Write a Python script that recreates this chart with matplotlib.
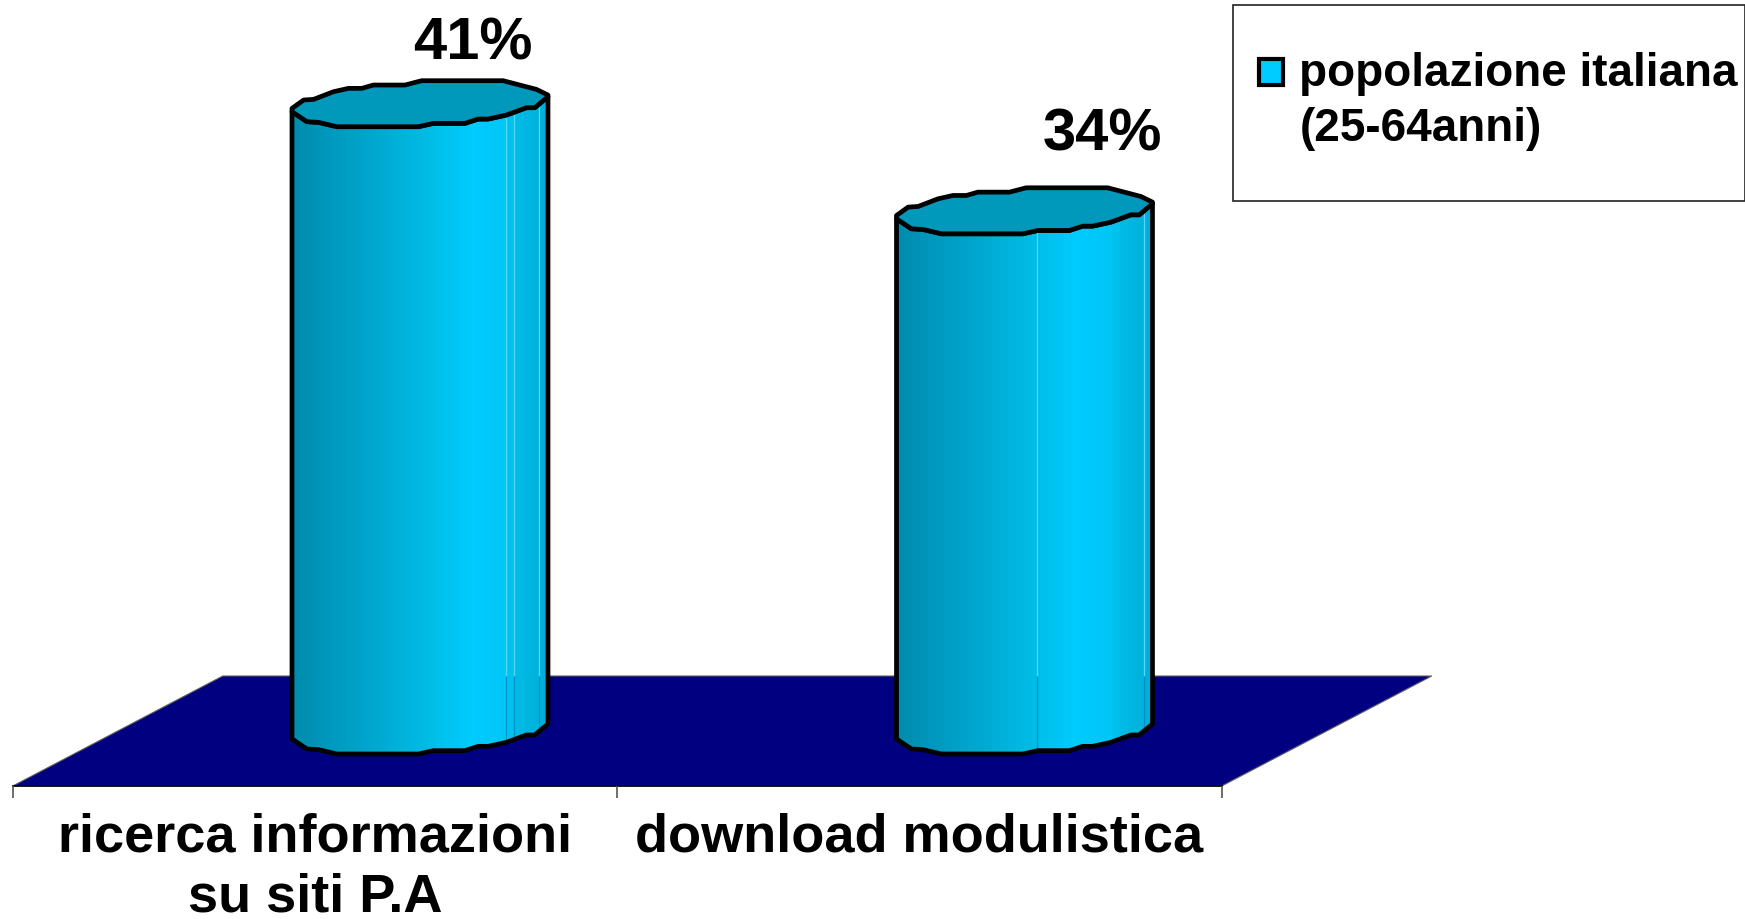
import numpy as np
import matplotlib
matplotlib.use("Agg")
import matplotlib.pyplot as plt
from matplotlib.colors import LinearSegmentedColormap
from matplotlib.legend_handler import HandlerPatch
from matplotlib.patches import Patch, Polygon, Rectangle

categories = ["ricerca informazioni\nsu siti P.A", "download modulistica"]
values = [41, 34]
value_labels = ["41%", "34%"]
series_name = "popolazione italiana\n(25-64anni)"

W, H = 1745, 920
plt.rcParams["font.family"] = ["Liberation Sans", "DejaVu Sans"]
plt.rcParams["font.weight"] = "bold"

fig = plt.figure(figsize=(W / 100, H / 100), dpi=100, facecolor="white")
ax = fig.add_axes([0, 0, 1, 1])

# scales: category 0 at px 315, category 1 at px 919.5; value 0 at py 732, 15.3 px per %
PX = 604.5
PY = 15.3
ax.axis("off")

depth_x = 105 / PX
depth_y = 55 / PY
bar_w = 256 / PX
rim_h = 23 / PY

# irregular rim outline, normalised
up_u = np.array([65, 100, 130, 190, 235, 275, 310, 405, 455, 700, 750, 800, 835])
up_w = np.array([325, 300, 298, 275, 265, 265, 255, 255, 242, 242, 255, 268, 285])
lo_u = np.array([835, 795, 770, 710, 655, 625, 585, 490, 445, 200, 145, 110, 65])
lo_w = np.array([290, 323, 323, 345, 357, 357, 370, 370, 380, 380, 367, 365, 335])
up_u, lo_u = (up_u - 450) / 385, (lo_u - 450) / 385
up_w, lo_w = (311 - up_w) / 69, (311 - lo_w) / 69

# floor
floor = Polygon([(-0.5, -depth_y), (-0.5 + 2 * depth_x, depth_y),
                 (1.5 + 2 * depth_x, depth_y), (1.5, -depth_y)],
                closed=True, fc="#000080", ec="#606060", lw=0.8, zorder=1)
ax.add_patch(floor)
ax.plot([-0.5, 1.5], [-depth_y, -depth_y], color="black", lw=1.2, zorder=2)
ax.vlines([-0.5, 0.5, 1.5], -depth_y - 12 / PY, -depth_y, color="#555555", lw=1.2, zorder=2)

stops = [(0.0, "#008CAE"), (0.12, "#0097BC"), (0.3, "#00A6CE"), (0.55, "#00BEE8"),
         (0.72, "#00CCFF"), (0.84, "#00C6F6"), (0.92, "#00B8E2"), (1.0, "#00B0DA")]
cmap = LinearSegmentedColormap.from_list("cyl", stops, N=32)
grad = np.linspace(0, 1, 32)[None, :]

seam_fracs = [[0.836, 0.867, 0.965], [0.55, 0.967]]
label_dx = [158 / PX, 182.5 / PX]
label_rise = [43.8, 55.3]  # points above the bar's value

for i, v in enumerate(values):
    cx = i + depth_x
    hw = bar_w / 2
    bx = np.concatenate([cx + hw * lo_u[::-1], cx + hw * lo_u])
    by = np.concatenate([rim_h * lo_w[::-1], v + rim_h * lo_w])
    body = Polygon(np.column_stack([bx, by]), closed=True, fc="none", ec="black",
                   lw=3.4, joinstyle="round", zorder=5)
    ax.add_patch(body)
    im = ax.imshow(grad, cmap=cmap, aspect="auto", interpolation="nearest",
                   extent=(cx - hw, cx + hw, -10, v + 5), zorder=4)
    im.set_clip_path(body)
    for f in seam_fracs[i]:
        sx = cx - hw + f * bar_w
        a = ax.vlines(sx, depth_y, v, color="#55D6FF", lw=0.9, zorder=4.5)
        b = ax.vlines(sx, -5, depth_y, color="#0090D0", lw=0.9, zorder=4.5)
        a.set_clip_path(body)
        b.set_clip_path(body)
    rim_x = np.concatenate([cx + hw * up_u, cx + hw * lo_u])
    rim_y = np.concatenate([v + rim_h * up_w, v + rim_h * lo_w])
    ax.add_patch(Polygon(np.column_stack([rim_x, rim_y]), closed=True, fc="#0099BB",
                         ec="black", lw=3.4, joinstyle="round", zorder=6))
    ax.annotate(value_labels[i], xy=(i + label_dx[i], v), xytext=(0, label_rise[i]),
                textcoords="offset points", ha="center", va="center",
                fontsize=43, color="black", zorder=7)
    ax.text(i, (732 - 813) / PY, categories[i], ha="center", va="top", fontsize=39,
            linespacing=1.24, color="black", zorder=7)

ax.set_xlim(-315 / PX, (W - 315) / PX)
ax.set_ylim((732 - H) / PY, 732 / PY)


def raised_square(legend, orig_handle, xdescent, ydescent, width, height, fontsize):
    return Rectangle((-xdescent, -ydescent + 21), width, height)


# legend
ax.add_patch(Rectangle((1233 / W, 1 - 202 / H), 512 / W, 196 / H, transform=ax.transAxes,
                       fc="white", ec="#222222", lw=1.2, zorder=8))
handle = Patch(facecolor="#00CCFF", edgecolor="black", linewidth=3, label=series_name)
leg = ax.legend(handles=[handle], loc="upper left", frameon=False,
                prop={"size": 33, "weight": "bold"},
                bbox_to_anchor=(1259 / W, 1 - 52 / H), bbox_transform=ax.transAxes,
                borderpad=0, borderaxespad=0, handlelength=0.52, handleheight=0.52,
                handletextpad=0.36, labelspacing=0,
                handler_map={Patch: HandlerPatch(patch_func=raised_square)})
leg.get_texts()[0].set_linespacing(1.32)
leg.set_zorder(9)

fig.savefig("out.png", dpi=100)
